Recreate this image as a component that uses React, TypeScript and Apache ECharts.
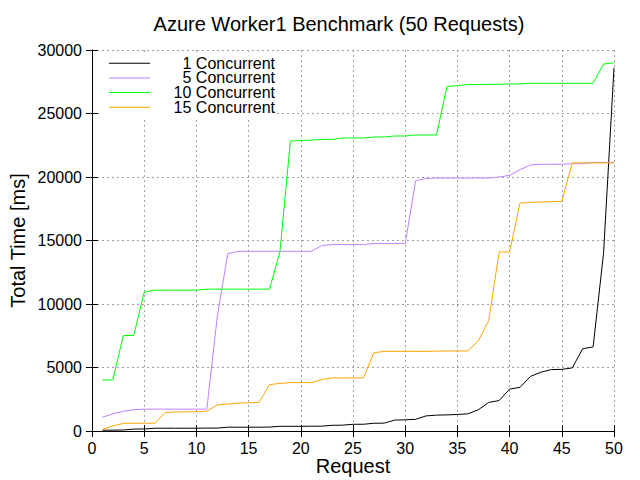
import React, { useEffect, useRef } from "react";
import * as echarts from "echarts";

const requests = [
  1, 2, 3, 4, 5, 6, 7, 8, 9, 10, 11, 12, 13, 14, 15, 16, 17, 18, 19, 20, 21, 22, 23, 24, 25,
  26, 27, 28, 29, 30, 31, 32, 33, 34, 35, 36, 37, 38, 39, 40, 41, 42, 43, 44, 45, 46, 47, 48, 49, 50,
];

const concurrent1 = [
  60, 70, 80, 150, 160, 220, 220, 220, 220, 220,
  230, 230, 300, 300, 300, 300, 310, 370, 370, 370,
  380, 380, 450, 460, 530, 530, 610, 620, 860, 880,
  920, 1190, 1250, 1270, 1300, 1350, 1670, 2250, 2400, 3300,
  3440, 4300, 4630, 4840, 4850, 4970, 6480, 6620, 14000, 28600,
];

const concurrent5 = [
  1090, 1350, 1550, 1680, 1720, 1720, 1720, 1720, 1720, 1720,
  1720, 9000, 13950, 14150, 14150, 14150, 14150, 14150, 14150, 14150,
  14150, 14600, 14680, 14680, 14680, 14680, 14760, 14760, 14760, 14760,
  19700, 19900, 19920, 19920, 19920, 19920, 19920, 19920, 20000, 20130,
  20580, 20950, 21000, 21000, 21000, 21050, 21050, 21150, 21150, 21150,
];

const concurrent10 = [
  4020, 4020, 7520, 7520, 10930, 11090, 11090, 11090, 11090, 11090,
  11170, 11170, 11170, 11170, 11170, 11170, 11170, 14100, 22830, 22880,
  22900, 22960, 22960, 23070, 23070, 23070, 23150, 23150, 23230, 23230,
  23310, 23310, 23310, 27120, 27200, 27280, 27280, 27300, 27300, 27330,
  27330, 27380, 27380, 27380, 27380, 27380, 27380, 27380, 28900, 28990,
];

const concurrent15 = [
  130, 400, 600, 610, 610, 610, 1450, 1500, 1500, 1520,
  1560, 2050, 2120, 2200, 2220, 2250, 3650, 3750, 3810, 3810,
  3810, 4050, 4180, 4180, 4180, 4180, 6160, 6270, 6270, 6270,
  6270, 6270, 6290, 6300, 6300, 6300, 7100, 8700, 14100, 14100,
  17950, 18000, 18030, 18060, 18080, 21110, 21110, 21110, 21110, 21110,
];

const seriesNames = ["1 Concurrent", "5 Concurrent", "10 Concurrent", "15 Concurrent"];
const seriesColors = ["#000000", "#c080ff", "#00ff00", "#ffa500"];
const seriesValues = [concurrent1, concurrent5, concurrent10, concurrent15];

const titleText = "Azure Worker1 Benchmark (50 Requests)";
const xName = "Request";
const yName = "Total Time [ms]";

const FONT = "'Liberation Sans', Arial, sans-serif";

export default function App() {
  const ref = useRef<HTMLDivElement>(null);

  useEffect(() => {
    if (!ref.current) return;
    const chart = echarts.init(ref.current, undefined, { renderer: "svg" });

    const tickStyle = { show: true, inside: true, length: 6, lineStyle: { color: "#000", width: 1 } };
    const lineStyleAxis = { show: true, lineStyle: { color: "#000", width: 1 } };
    const gridLine = { show: true, lineStyle: { color: "#a0a0a0", width: 1, type: [2, 3] as any } };
    const plainNum = (v: number) => String(v);

    const legends = seriesNames.map((name, i) => ({
      orient: "vertical",
      left: 100,
      top: 55.2 + i * 14.7,
      padding: [0, 2, i === seriesNames.length - 1 ? 3 : 0, 9],
      backgroundColor: "#ffffff",
      icon: "rect",
      itemWidth: 41,
      itemHeight: 1,
      itemGap: 0,
      itemTextGap: 5,
      data: [name],
      formatter: (n: string) => `{a|${n}}`,
      textStyle: {
        fontFamily: FONT,
        fontSize: 16,
        lineHeight: 14.6,
        color: "#000",
        rich: {
          a: { width: 120, align: "right", fontFamily: FONT, fontSize: 16, lineHeight: 14.6, color: "#000" },
        },
      },
    }));

    chart.setOption({
      animation: false,
      backgroundColor: "#ffffff",
      title: {
        text: titleText,
        left: 334,
        textAlign: "center",
        top: 9,
        textStyle: { fontFamily: FONT, fontSize: 20, fontWeight: "normal", color: "#000" },
      },
      legend: legends,
      grid: { left: 92, right: 26, top: 50, bottom: 49, containLabel: false, outerBoundsMode: "none" },
      xAxis: [
        {
          type: "value",
          min: 0,
          max: 50,
          interval: 5,
          name: xName,
          nameLocation: "middle",
          nameGap: 25,
          nameMoveOverlap: false,
          nameTextStyle: { fontFamily: FONT, fontSize: 20, color: "#000" },
          axisLine: lineStyleAxis,
          axisTick: tickStyle,
          axisLabel: { fontFamily: FONT, fontSize: 16, color: "#000", margin: 9, formatter: plainNum },
          splitLine: gridLine,
        },
        {
          type: "value",
          position: "top",
          min: 0,
          max: 50,
          interval: 5,
          z: 6,
          axisLine: lineStyleAxis,
          axisTick: tickStyle,
          axisLabel: { show: false },
          splitLine: { show: false },
        },
      ],
      yAxis: [
        {
          type: "value",
          min: 0,
          max: 30000,
          interval: 5000,
          name: yName,
          nameLocation: "middle",
          nameGap: 64,
          nameMoveOverlap: false,
          nameTextStyle: { fontFamily: FONT, fontSize: 20, color: "#000" },
          axisLine: lineStyleAxis,
          axisTick: tickStyle,
          axisLabel: { fontFamily: FONT, fontSize: 16, color: "#000", margin: 10, formatter: plainNum },
          splitLine: gridLine,
        },
        {
          type: "value",
          position: "right",
          min: 0,
          max: 30000,
          interval: 5000,
          axisLine: lineStyleAxis,
          axisTick: tickStyle,
          axisLabel: { show: false },
          splitLine: { show: false },
        },
      ],
      series: seriesNames.map((name, i) => ({
        name,
        type: "line",
        xAxisIndex: 0,
        yAxisIndex: 0,
        showSymbol: false,
        symbol: "none",
        color: seriesColors[i],
        lineStyle: { color: seriesColors[i], width: 1 },
        data: requests.map((r, j) => [r, seriesValues[i][j]]),
      })),
    });

    return () => chart.dispose();
  }, []);

  return (
    <div
      ref={ref}
      style={{ position: "fixed", left: 0, top: 0, width: 640, height: 480, background: "#fff" }}
    />
  );
}
